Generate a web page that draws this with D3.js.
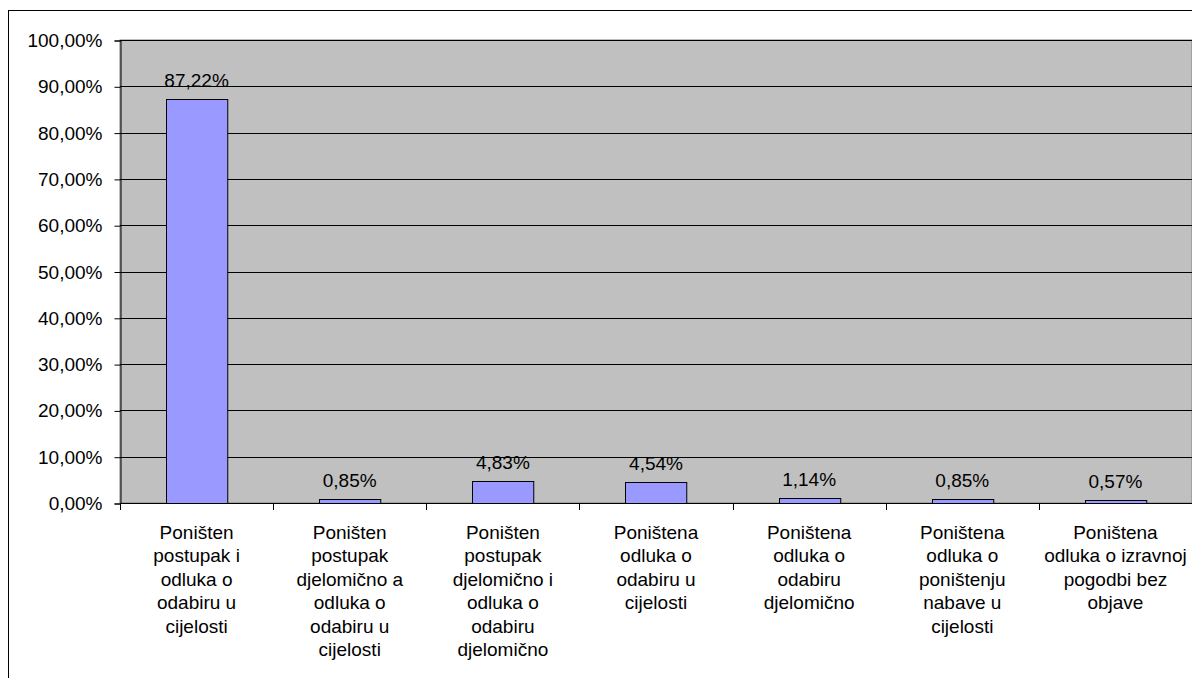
<!DOCTYPE html>
<html>
<head>
<meta charset="utf-8">
<script src="https://cdn.jsdelivr.net/npm/d3@7"></script>
<style>
  body { margin: 0; background: #fff; }
  svg { display: block; font-family: "Liberation Sans", Arial, sans-serif; }
</style>
</head>
<body>
<script>
// category labels, already broken into lines as in the picture
var categories = [
    ["Poništen", "postupak i", "odluka o", "odabiru u", "cijelosti"],
    ["Poništen", "postupak", "djelomično a", "odluka o", "odabiru u", "cijelosti"],
    ["Poništen", "postupak", "djelomično i", "odluka o", "odabiru", "djelomično"],
    ["Poništena", "odluka o", "odabiru u", "cijelosti"],
    ["Poništena", "odluka o", "odabiru", "djelomično"],
    ["Poništena", "odluka o", "poništenju", "nabave u", "cijelosti"],
    ["Poništena", "odluka o izravnoj", "pogodbi bez", "objave"]
];
// percent values
var values = [87.22, 0.85, 4.83, 4.54, 1.14, 0.85, 0.57];
// y axis ticks
var yTicks = [0, 10, 20, 30, 40, 50, 60, 70, 80, 90, 100];

var width = 1192,
    height = 678,
    fontSize = 19;
var plot = { left: 120, top: 40, right: 1192, bottom: 503 };

// comma decimal
function pct(v) {
    return v.toFixed(2).replace(".", ",") + "%";
}

var svg = d3.select("body").append("svg")
    .attr("width", width)
    .attr("height", height);

// outer chart border (only left and top visible)
svg.append("rect")
    .attr("x", 8.5).attr("y", 10.5)
    .attr("width", 1300).attr("height", 800)
    .attr("fill", "none").attr("stroke", "#000").attr("stroke-width", 1);

var x = d3.scaleBand()
    .domain(d3.range(categories.length))
    .range([plot.left, plot.right])
    .paddingInner(0.6)
    .paddingOuter(0.3);

var xOuter = d3.scaleBand()
    .domain(d3.range(categories.length))
    .range([plot.left, plot.right]);

var y = d3.scaleLinear()
    .domain([0, 100])
    .range([plot.bottom, plot.top]);

// plot background
svg.append("rect")
    .attr("x", plot.left).attr("y", plot.top)
    .attr("width", plot.right - plot.left)
    .attr("height", plot.bottom - plot.top)
    .attr("fill", "#c0c0c0")
    .attr("stroke", "#808080").attr("stroke-width", 1);

// gridlines
svg.append("g").selectAll("line")
    .data(yTicks.filter(function(d) { return d > 0; }))
    .enter().append("line")
    .attr("x1", plot.left).attr("x2", plot.right)
    .attr("y1", function(d) { return Math.round(y(d)) + 0.5; })
    .attr("y2", function(d) { return Math.round(y(d)) + 0.5; })
    .attr("stroke", "#000").attr("stroke-width", 1);

// y axis
var yAxis = svg.append("g")
    .attr("transform", "translate(" + (plot.left + 0.5) + ",0.5)")
    .call(d3.axisLeft(y).tickValues(yTicks).tickFormat(pct).tickSize(6).tickPadding(12));
yAxis.select(".domain").attr("stroke", "#000");
yAxis.selectAll("line").attr("stroke", "#000");
yAxis.selectAll("text")
    .attr("font-size", fontSize)
    .attr("fill", "#000")
    .attr("font-family", "Liberation Sans, Arial, sans-serif");

// bars
svg.append("g").selectAll("rect")
    .data(values)
    .enter().append("rect")
    .attr("x", function(d, i) { return Math.round(x(i)) + 0.5; })
    .attr("y", function(d) { return Math.round(y(d)) + 0.5; })
    .attr("width", x.bandwidth())
    .attr("height", function(d) { return Math.round(plot.bottom) - Math.round(y(d)); })
    .attr("fill", "#9999ff")
    .attr("stroke", "#000").attr("stroke-width", 1);

// value labels
svg.append("g").selectAll("text")
    .data(values)
    .enter().append("text")
    .attr("x", function(d, i) { return x(i) + x.bandwidth() / 2; })
    .attr("y", function(d) { return y(d) - 12; })
    .attr("text-anchor", "middle")
    .attr("font-size", fontSize)
    .attr("fill", "#000")
    .text(function(d) { return pct(d); });

// x axis line and category ticks
svg.append("line")
    .attr("x1", plot.left).attr("x2", plot.right)
    .attr("y1", plot.bottom + 0.5).attr("y2", plot.bottom + 0.5)
    .attr("stroke", "#000");
svg.append("g").selectAll("line")
    .data(d3.range(categories.length + 1))
    .enter().append("line")
    .attr("x1", function(i) { return Math.round(plot.left + i * xOuter.step()) + 0.5; })
    .attr("x2", function(i) { return Math.round(plot.left + i * xOuter.step()) + 0.5; })
    .attr("y1", plot.bottom).attr("y2", plot.bottom + 7)
    .attr("stroke", "#000");

// category labels
var catLabel = svg.append("g").selectAll("text")
    .data(categories)
    .enter().append("text")
    .attr("text-anchor", "middle")
    .attr("font-size", fontSize)
    .attr("fill", "#000")
    .attr("transform", function(d, i) {
        return "translate(" + (xOuter(i) + xOuter.bandwidth() / 2) + ",539)";
    });
catLabel.selectAll("tspan")
    .data(function(d) { return d; })
    .enter().append("tspan")
    .attr("x", 0)
    .attr("y", function(d, j) { return j * 23.4; })
    .text(function(d) { return d; });
</script>
</body>
</html>
